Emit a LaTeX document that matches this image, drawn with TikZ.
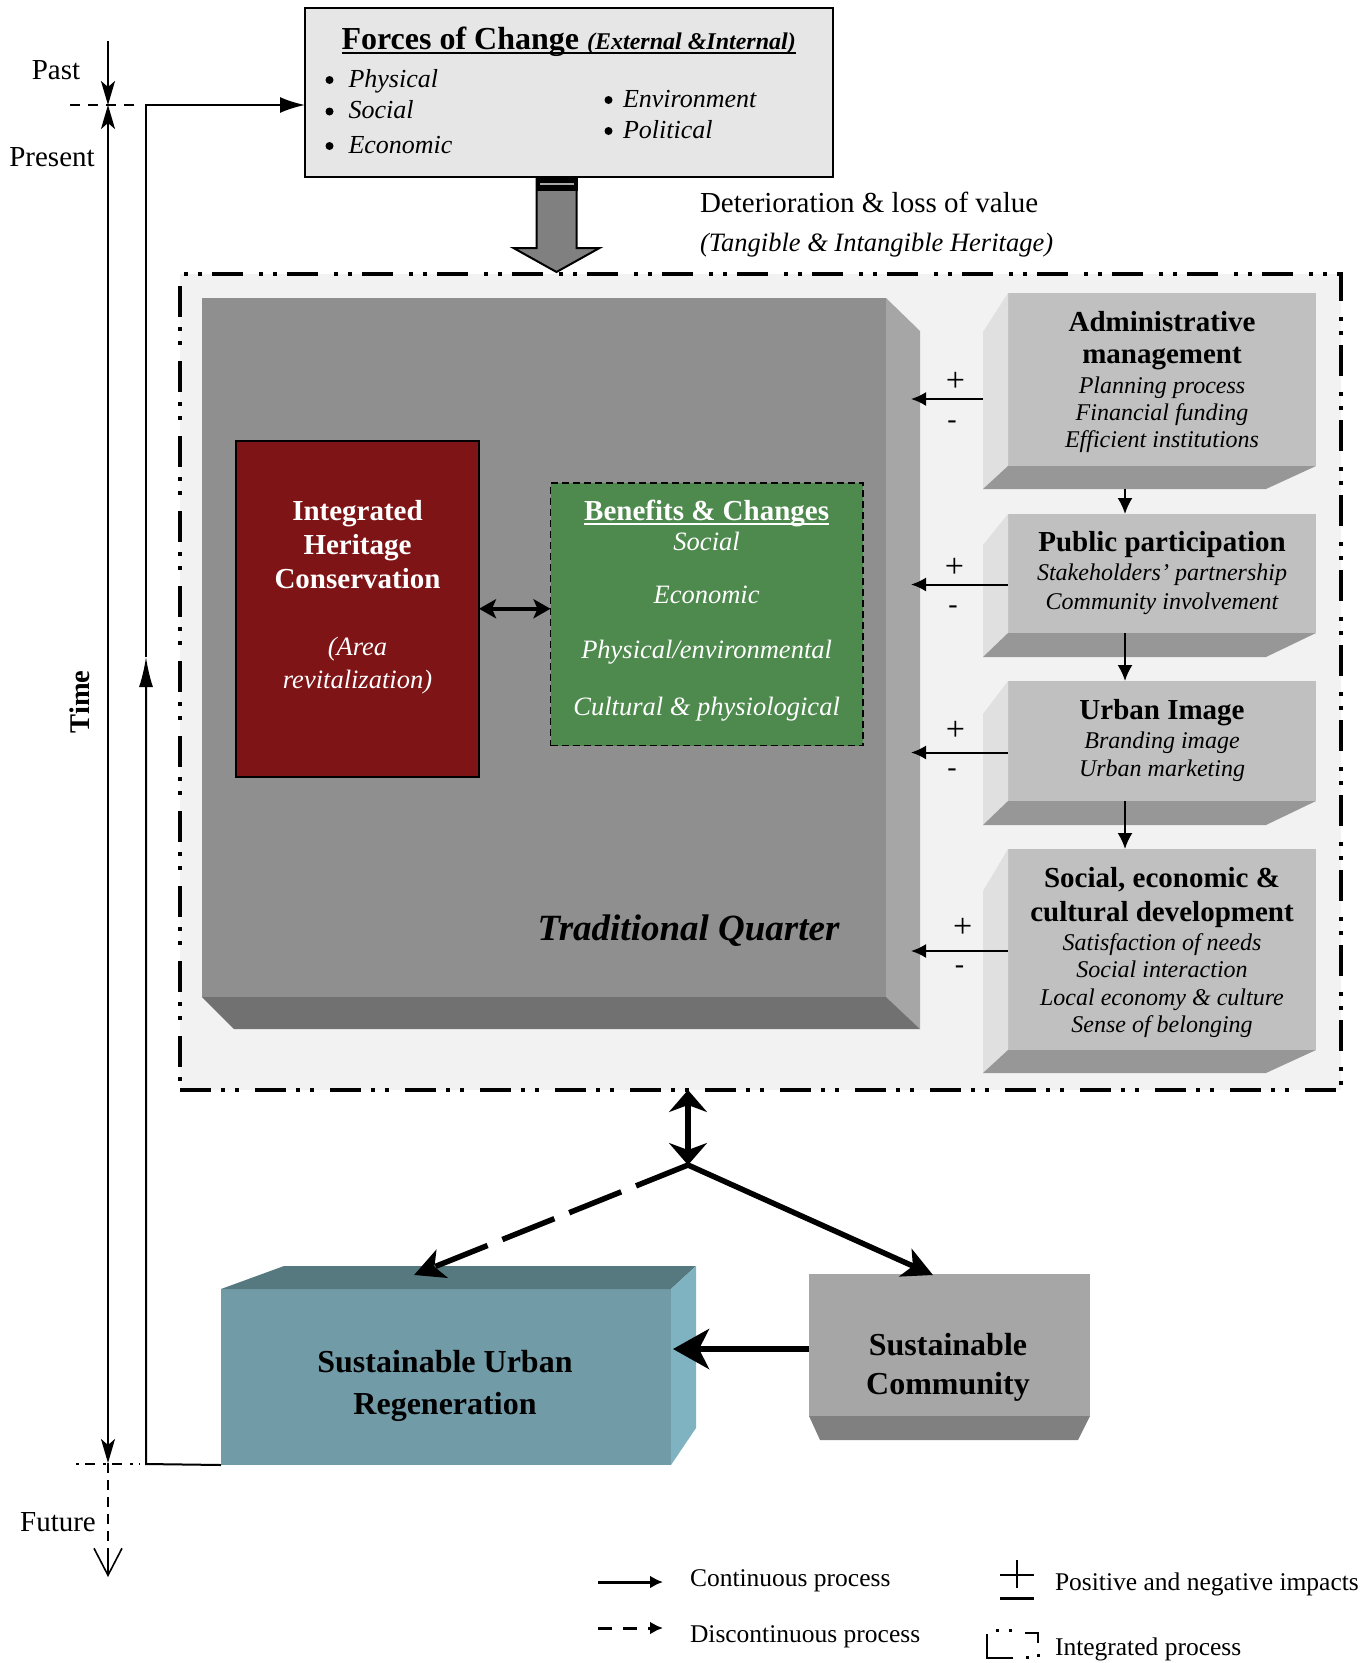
\documentclass[tikz,border=0pt]{standalone}
\usepackage{fontspec}
\setmainfont{Liberation Serif}
\usetikzlibrary{arrows.meta,calc}
\newcommand\fsz[1]{\fontsize{#1}{#1}\selectfont}
\definecolor{forcesfill}{HTML}{E6E6E6}
\definecolor{integfill}{HTML}{F2F2F2}
\definecolor{tqfront}{HTML}{8F8F8F}
\definecolor{tqside}{HTML}{A6A6A6}
\definecolor{tqbot}{HTML}{717171}
\definecolor{redfill}{HTML}{7F1416}
\definecolor{greenfill}{HTML}{4E8A4D}
\definecolor{rfront}{HTML}{C0C0C0}
\definecolor{rleft}{HTML}{E0E0E0}
\definecolor{rbot}{HTML}{979797}
\definecolor{surfront}{HTML}{719BA7}
\definecolor{surtop}{HTML}{56797F}
\definecolor{surside}{HTML}{80B3C1}
\definecolor{scfront}{HTML}{A6A6A6}
\definecolor{scbot}{HTML}{808080}
\definecolor{bigarrowfill}{HTML}{808080}
\tikzset{
 ttip/.tip={Stealth[length=24pt,width=14pt,inset=6pt]},
 bigtipstyle/.tip={Stealth[length=22pt,width=38pt,inset=7pt]}
}
\newcommand\rbevel[3]{%
 \fill[rleft] ($(#1.north west)+(-25,#2)$) -- (#1.north west) -- (#1.south west) -- ($(#1.south west)+(-25,#3)$) -- cycle;
 \fill[rbot] ($(#1.south west)+(-25,#3)$) -- (#1.south west) -- (#1.south east) -- ($(#1.south east)+(-50,#3)$) -- cycle;}
\begin{document}
\begin{tikzpicture}[x=1pt,y=-1pt,
 every node/.style={inner sep=0pt,outer sep=0pt},
 facebox/.style={anchor=north west,draw=none},
 tb/.style={anchor=base,font=\fsz{29}\bfseries},
 ti/.style={anchor=base,font=\fsz{26.5}\itshape},
 rb/.style={anchor=base,font=\fsz{29}\bfseries},
 ri/.style={anchor=base,font=\fsz{24}\itshape},
 sb/.style={anchor=base,font=\fsz{32}\bfseries},
 psign/.style={font=\fsz{34}},
 msign/.style={font=\fsz{28}},
 bul/.style={anchor=base west,font=\fsz{26}\itshape},
 lg/.style={anchor=base west,font=\fsz{25.5}},
 larrow/.style={line width=2pt,-{Latex[length=15pt,width=14pt]}},
 darrow/.style={line width=2pt,-{Latex[length=16pt,width=15pt]}},
 taxis/.style={line width=1.8pt}
]
\useasboundingbox (0,0) rectangle (1370,1663);

% integrated process box
\node[facebox, fill=integfill, draw=black, line width=3.5pt,
  dash pattern=on 31pt off 10pt on 4pt off 10pt on 4pt off 16pt,
  minimum width=1161pt, minimum height=816pt] (integ) at (180,274) {};

% forces of change
\node[facebox, fill=forcesfill, draw=black, line width=1.5pt,
  minimum width=528pt, minimum height=169pt] (forces) at (305,8) {};
\node[anchor=base west] (ftitle) at (341.5,49.5)
  {{\fsz{32}\bfseries Forces of Change }{\fsz{24}\bfseries\itshape (External \&Internal)}};
\draw[line width=2pt] ($(ftitle.base west)+(0,3)$) -- ($(ftitle.base east)+(0,3)$);
\node[bul] (b1) at (348.5,87) {Physical};
\node[bul] (b2) at (348.5,118.5) {Social};
\node[bul] (b3) at (348.5,153) {Economic};
\node[bul] (b4) at (623,107) {Environment};
\node[bul] (b5) at (623,138) {Political};
\fill (329.5,80) circle (4pt);
\fill (329.5,111.5) circle (4pt);
\fill (329.5,146) circle (4pt);
\fill (608.5,100) circle (4pt);
\fill (608.5,131) circle (4pt);

% big arrow
\coordinate (bigtip) at (556.5,272);
\filldraw[fill=bigarrowfill, draw=black, line width=2pt]
  ($(bigtip |- forces.south)+(-20,0)$) -- ($(bigtip)+(-20,-24)$) -- ($(bigtip)+(-43,-24)$)
  -- (bigtip) -- ($(bigtip)+(43,-24)$) -- ($(bigtip)+(20,-24)$) -- ($(bigtip |- forces.south)+(20,0)$) -- cycle;
\fill[black] ($(bigtip |- forces.south)+(-21,0)$) rectangle ($(bigtip |- forces.south)+(21,14)$);
\draw[bigarrowfill!70!white, line width=1.5pt] ($(bigtip |- forces.south)+(-17,7)$) -- ++(34,0);

\node[anchor=base west, font=\fsz{29}] (deter) at (700,212) {Deterioration \& loss of value};
\node[anchor=base west, font=\fsz{26.5}\itshape] (tang) at (700,251) {(Tangible \& Intangible Heritage)};

% traditional quarter block
\node[facebox, fill=tqfront, minimum width=684pt, minimum height=699pt] (tq) at (202,298) {};
\fill[tqside] (tq.north east) -- ++(34,33) -- ($(tq.south east)+(34,32)$) -- (tq.south east) -- cycle;
\fill[tqbot] (tq.south west) -- (tq.south east) -- ++(34,32) -- ($(tq.south west)+(32,32)$) -- cycle;
\node[anchor=base, font=\fsz{37}\bfseries\itshape] (tqlbl) at (688.5,940) {Traditional Quarter};

% integrated heritage conservation
\node[facebox, fill=redfill, draw=black, line width=2pt,
  minimum width=243.5pt, minimum height=336.5pt] (ihc) at (235.5,440.5) {};
\node[tb, text=white] (ihc1) at (357.5,520.6) {Integrated};
\node[tb, text=white] (ihc2) at (357.5,554.6) {Heritage};
\node[tb, text=white] (ihc3) at (357.5,588.2) {Conservation};
\node[ti, text=white] (ihc4) at (357.5,655.7) {(Area};
\node[ti, text=white] (ihc5) at (357.5,688.7) {revitalization)};

% benefits & changes
\node[facebox, fill=greenfill, draw=black, line width=1.5pt, dash pattern=on 7pt off 4pt,
  minimum width=312.5pt, minimum height=262.5pt] (ben) at (550.5,483) {};
\node[tb, text=white] (ben1) at (706.6,520.6) {Benefits \& Changes};
\draw[white, line width=1.8pt] ($(ben1.base west)+(0,3)$) -- ($(ben1.base east)+(0,3)$);
\node[ti, text=white] (ben2) at (706.6,550.7) {Social};
\node[ti, text=white] (ben3) at (706.6,603.7) {Economic};
\node[ti, text=white] (ben4) at (706.6,658.7) {Physical/environmental};
\node[ti, text=white] (ben5) at (706.6,715.7) {Cultural \& physiological};

\draw[line width=4pt, {Stealth[length=17pt,width=19pt,inset=4pt]}-{Stealth[length=17pt,width=19pt,inset=4pt]}]
  (ihc.east) -- (ihc.east -| ben.west);

% right column boxes
\node[facebox, fill=rfront, minimum width=308pt, minimum height=173pt] (admin) at (1008,293) {};
\rbevel{admin}{39}{23}
\node[facebox, fill=rfront, minimum width=308pt, minimum height=119pt] (public) at (1008,514) {};
\rbevel{public}{31}{24}
\node[facebox, fill=rfront, minimum width=308pt, minimum height=120pt] (urban) at (1008,681) {};
\rbevel{urban}{33}{24}
\node[facebox, fill=rfront, minimum width=308pt, minimum height=201pt] (soc) at (1008,849) {};
\rbevel{soc}{42}{23}

\node[rb] (ad1) at (1162,331.5) {Administrative};
\node[rb] (ad2) at (1162,363) {management};
\node[ri] (ad3) at (1162,393.5) {Planning process};
\node[ri] (ad4) at (1162,420) {Financial funding};
\node[ri] (ad5) at (1162,447.5) {Efficient institutions};

\node[rb] (pu1) at (1162,551) {Public participation};
\node[ri] (pu2) at (1162,580.5) {Stakeholders’ partnership};
\node[ri] (pu3) at (1162,609) {Community involvement};

\node[rb] (ur1) at (1162,719.5) {Urban Image};
\node[ri] (ur2) at (1162,748.5) {Branding image};
\node[ri] (ur3) at (1162,776) {Urban marketing};

\node[rb] (so1) at (1162,887) {Social, economic \&};
\node[rb] (so2) at (1162,921.5) {cultural development};
\node[ri] (so3) at (1162,950.5) {Satisfaction of needs};
\node[ri] (so4) at (1162,977.5) {Social interaction};
\node[ri] (so5) at (1162,1005) {Local economy \& culture};
\node[ri] (so6) at (1162,1032) {Sense of belonging};

% vertical arrows between right boxes
\draw[darrow] ($(admin.south)+(-37,23)$) -- ($(public.north)+(-37,0)$);
\draw[darrow] ($(public.south)+(-37,0)$) -- ($(urban.north)+(-37,0)$);
\draw[darrow] ($(urban.south)+(-37,0)$) -- ($(soc.north)+(-37,0)$);

% impact arrows to traditional quarter
\coordinate (t1) at (911,399);
\coordinate (t2) at (911,584.5);
\coordinate (t3) at (911,752.5);
\coordinate (t4) at (911,951);
\draw[larrow] ($(admin.north west)+(-25,106)$) -- (t1);
\draw[larrow] ($(public.north west)+(0,70.5)$) -- (t2);
\draw[larrow] ($(urban.north west)+(0,71.5)$) -- (t3);
\draw[larrow] ($(soc.north west)+(0,102)$) -- (t4);
\node[psign] (p1) at (955.5,381.7) {+};
\node[msign] (m1) at (952,425) {-};
\node[psign] (p2) at (954.5,568) {+};
\node[msign] (m2) at (953,610) {-};
\node[psign] (p3) at (955.5,730.7) {+};
\node[msign] (m3) at (952,772.8) {-};
\node[psign] (p4) at (962.8,927.8) {+};
\node[msign] (m4) at (959.5,970) {-};

% sustainable urban regeneration
\node[facebox, fill=surfront, minimum width=450pt, minimum height=176pt] (sur) at (221,1289) {};
\fill[surtop] (sur.north west) -- ++(63,-23) -- ($(sur.north east)+(25,-23)$) -- (sur.north east) -- cycle;
\fill[surside] (sur.north east) -- ++(25,-23) -- ($(sur.south east)+(25,-37)$) -- (sur.south east) -- cycle;
\node[sb] (sur1) at (445,1372) {Sustainable Urban};
\node[sb] (sur2) at (445,1414.5) {Regeneration};

% sustainable community
\node[facebox, fill=scfront, minimum width=281pt, minimum height=142pt] (sc) at (809,1274) {};
\fill[scbot] (sc.south west) -- (sc.south east) -- ++(-12,24) -- ($(sc.south west)+(11,24)$) -- cycle;
\node[sb] (sc1) at (948,1355) {Sustainable};
\node[sb] (sc2) at (948,1394.5) {Community};

% lower arrows
\coordinate (br) at (688,1165);
\coordinate (surIn) at (414,1275);
\coordinate (scIn) at (933,1275);
\draw[line width=6pt, {bigtipstyle}-{bigtipstyle}] (integ.south -| br) -- (br);
\draw[line width=5.5pt, dash pattern=on 56pt off 16pt, -{Stealth[length=30pt,width=30pt,inset=8pt]}] (br) -- (surIn);
\draw[line width=5.5pt, -{Stealth[length=30pt,width=30pt,inset=8pt]}] (br) -- (scIn);
\draw[line width=6pt, -{Stealth[length=36pt,width=40pt,inset=10pt]}] ($(sc.west)+(0,4)$) -- ($(sc.west -| sur.east)+(2,4)$);

% time axis
\coordinate (pastTop) at (108,41);
\coordinate (tPresent) at (108,105);
\coordinate (tFuture) at (108,1463);
\coordinate (tEnd) at (108,1577);
\draw[taxis, -{ttip}] (pastTop) -- (tPresent);
\draw[taxis, {ttip}-{ttip}] (tPresent) -- (tFuture);
\draw[line width=1.6pt, dash pattern=on 10pt off 7pt] (tFuture) -- ($(tEnd)+(0,-3)$);
\draw[line width=1.6pt, -{Straight Barb[length=27pt,width=28pt]}] ($(tEnd)+(0,-20)$) -- (tEnd);
\coordinate (tk1a) at (70,105);
\coordinate (tk1b) at (138,105);
\draw[line width=1.8pt, dash pattern=on 10pt off 8pt] (tk1a) -- (tk1b);
\coordinate (tk2a) at (76,1464);
\coordinate (tk2b) at (140,1464);
\draw[line width=1.8pt, dash pattern=on 3pt off 6pt on 10pt off 8pt] (tk2a) -- (tk2b);

% feedback line
\coordinate (fbB) at (146,1464);
\coordinate (fbM) at (146,657);
\coordinate (fbT) at (146,105);
\draw[line width=2pt, -{Latex[length=30pt,width=14pt]}] (sur.south west) -- (fbB) -- (fbM);
\draw[line width=2pt, -{Latex[length=25pt,width=16pt]}] (fbM) -- (fbT) -- (forces.west |- fbT);

\node[font=\fsz{29}] (past) at (56,70) {Past};
\node[font=\fsz{29}] (present) at (52,157) {Present};
\node[font=\fsz{29}] (futurelbl) at (58,1522) {Future};
\node[font=\fsz{28.5}\bfseries, rotate=90] (time) at (80,702) {Time};

% legend
\coordinate (lgA1) at (598,1582);
\coordinate (lgA2) at (663,1582);
\draw[line width=3pt, -{Latex[length=13pt,width=13pt]}] (lgA1) -- (lgA2);
\coordinate (lgB1) at (598,1628);
\coordinate (lgB2) at (663,1628);
\draw[line width=3pt, dash pattern=on 14pt off 11pt, -{Latex[length=13pt,width=13pt]}] (lgB1) -- (lgB2);
\node[lg] (lg1) at (690,1586.5) {Continuous process};
\node[lg] (lg2) at (690,1642.5) {Discontinuous process};
\node[lg] (lg3) at (1055,1590.5) {Positive and negative impacts};
\node[lg] (lg4) at (1055,1655.5) {Integrated process};
\draw[line width=2pt] (1017,1560) -- (1017,1588);
\draw[line width=2pt] (1000,1575) -- (1034,1575);
\draw[line width=3pt] (1000,1598) -- (1034,1598);
\draw[line width=2.5pt] (1013,1658) -- (987,1658) -- (987,1634);
\draw[line width=2.5pt] (1025,1633) -- (1038,1633) -- (1038,1643);
\fill (995.5,1628.5) rectangle ++(3,3);
\fill (1008.5,1628.5) rectangle ++(3,3);
\fill (1036.5,1653.5) rectangle ++(3,3);
\fill (1025.5,1655.5) rectangle ++(3,3);
\end{tikzpicture}
\end{document}
